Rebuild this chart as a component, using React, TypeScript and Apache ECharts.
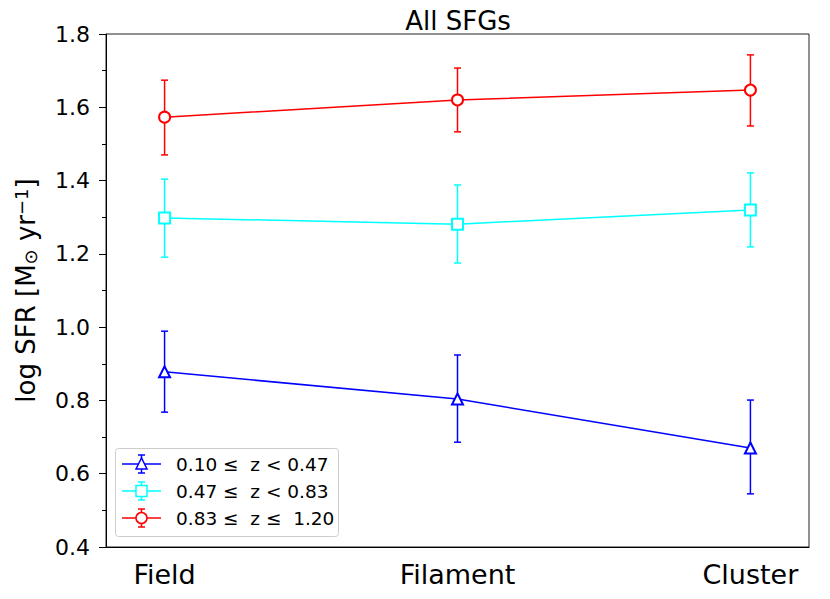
import React, { useEffect, useRef } from "react";
import * as echarts from "echarts";

const categories = ["Field", "Filament", "Cluster"];
const xPositions = [0, 1, 2];
const seriesNames = ["0.10 ≤  z < 0.47", "0.47 ≤  z < 0.83", "0.83 ≤  z ≤  1.20"];
const colors = ["#0000ff", "#00ffff", "#ff0000"];
const symbols = ["emptyTriangle", "emptyRect", "emptyCircle"];
const lowZMean = [0.878, 0.804, 0.67];
const lowZLow = [0.768, 0.686, 0.545];
const lowZHigh = [0.989, 0.924, 0.801];
const midZMean = [1.298, 1.281, 1.32];
const midZLow = [1.191, 1.175, 1.219];
const midZHigh = [1.404, 1.388, 1.421];
const highZMean = [1.573, 1.62, 1.647];
const highZLow = [1.47, 1.533, 1.549];
const highZHigh = [1.674, 1.707, 1.743];
const yTicks = [0.4, 0.6, 0.8, 1.0, 1.2, 1.4, 1.6, 1.8];

const means = [lowZMean, midZMean, highZMean];
const lows = [lowZLow, midZLow, highZLow];
const highs = [lowZHigh, midZHigh, highZHigh];

const FONT = "DejaVu Sans";

export default function App() {
  const ref = useRef<HTMLDivElement>(null);
  useEffect(() => {
    document.body.style.margin = "0";
    const chart = echarts.init(ref.current!, undefined, { renderer: "svg" });
    const series: any[] = [];
    for (let i = 0; i < 3; i++) {
      series.push({
        type: "custom",
        name: seriesNames[i] + " err",
        z: 2,
        data: xPositions.map((x, j) => [x, lows[i][j], highs[i][j]]),
        renderItem: (params: any, api: any) => {
          const x = api.value(0);
          const lo = api.coord([x, api.value(1)]);
          const hi = api.coord([x, api.value(2)]);
          const cap = 3.5;
          const style = { stroke: colors[i], lineWidth: 1.5 };
          return {
            type: "group",
            children: [
              { type: "line", shape: { x1: lo[0], y1: lo[1], x2: hi[0], y2: hi[1] }, style },
              { type: "line", shape: { x1: lo[0] - cap, y1: lo[1], x2: lo[0] + cap, y2: lo[1] }, style },
              { type: "line", shape: { x1: hi[0] - cap, y1: hi[1], x2: hi[0] + cap, y2: hi[1] }, style },
            ],
          };
        },
      });
      series.push({
        type: "line",
        name: seriesNames[i],
        z: 3,
        data: xPositions.map((x, j) => [x, means[i][j]]),
        symbol: symbols[i],
        symbolSize: 11,
        showAllSymbol: true,
        lineStyle: { color: colors[i], width: 1.5 },
        itemStyle: { color: colors[i], borderColor: colors[i], borderWidth: 1.5 },
      });
    }

    // legend drawn as graphic
    const lg: any[] = [
      {
        type: "rect",
        shape: { x: 115.5, y: 448.5, width: 223, height: 88, r: 3 },
        style: { fill: "rgba(255,255,255,0.8)", stroke: "#cccccc", lineWidth: 1 },
        z: 10,
      },
    ];
    const rowY = [464, 491, 518];
    for (let i = 0; i < 3; i++) {
      const y = rowY[i];
      const st = { stroke: colors[i], lineWidth: 1.5 };
      lg.push({ type: "line", shape: { x1: 122, y1: y, x2: 161, y2: y }, style: st, z: 11 });
      lg.push({ type: "line", shape: { x1: 141.5, y1: y - 9, x2: 141.5, y2: y + 9 }, style: st, z: 11 });
      lg.push({ type: "line", shape: { x1: 138, y1: y - 9, x2: 145, y2: y - 9 }, style: st, z: 11 });
      lg.push({ type: "line", shape: { x1: 138, y1: y + 9, x2: 145, y2: y + 9 }, style: st, z: 11 });
      const ms = { fill: "#ffffff", stroke: colors[i], lineWidth: 1.5 };
      if (i === 0) {
        lg.push({ type: "polygon", shape: { points: [[141.5, y - 6], [136, y + 5], [147, y + 5]] }, style: ms, z: 12 });
      } else if (i === 1) {
        lg.push({ type: "rect", shape: { x: 136, y: y - 5.5, width: 11, height: 11 }, style: ms, z: 12 });
      } else {
        lg.push({ type: "circle", shape: { cx: 141.5, cy: y, r: 5.5 }, style: ms, z: 12 });
      }
      lg.push({
        type: "text",
        x: 176,
        y: y,
        style: { text: seriesNames[i], font: `18.5px '${FONT}'`, fill: "#000", verticalAlign: "middle", textAlign: "left" },
        z: 12,
      });
    }

    chart.setOption({
      animation: false,
      backgroundColor: "#ffffff",
      title: {
        text: "All SFGs",
        left: 453,
        textAlign: "center",
        top: 3,
        textStyle: { fontFamily: FONT, fontSize: 26, fontWeight: "normal", color: "#000" },
      },
      grid: {
        left: 106,
        top: 34,
        right: 21,
        bottom: 52,
        containLabel: false,
        outerBoundsMode: "none",
        show: true,
        borderColor: "#222",
        borderWidth: 1,
        backgroundColor: "transparent",
      },
      xAxis: {
        type: "value",
        min: -0.2,
        max: 2.2,
        splitLine: { show: false },
        axisLine: { show: true, onZero: false, lineStyle: { color: "#000", width: 1 } },
        axisTick: { show: false },
        axisLabel: {
          customValues: xPositions,
          formatter: (v: number) => categories[Math.round(v)] ?? "",
          fontFamily: FONT,
          fontSize: 27,
          color: "#000",
          margin: 14,
        },
      },
      yAxis: {
        type: "value",
        min: 0.4,
        max: 1.8,
        interval: 0.2,
        splitLine: { show: false },
        axisLine: { show: true, onZero: false, lineStyle: { color: "#000", width: 1 } },
        axisTick: { show: true, inside: false, length: 7, lineStyle: { color: "#000", width: 1 } },
        minorTick: { show: true, splitNumber: 2, length: 4, lineStyle: { color: "#000", width: 1 } },
        axisLabel: {
          fontFamily: FONT,
          fontSize: 22,
          color: "#000",
          margin: 16,
          formatter: (v: number) => {
            const t = yTicks.find((k) => Math.abs(k - v) < 1e-6);
            return t !== undefined ? t.toFixed(1) : "";
          },
        },
        name: "log SFR [M{sub|⊙} yr{sup|−1}]",
        nameLocation: "middle",
        nameGap: 67,
        nameRotate: 90,
        nameTextStyle: {
          fontFamily: FONT,
          fontSize: 26,
          color: "#000",
          rich: {
            sub: { fontFamily: FONT, fontSize: 18, color: "#000", verticalAlign: "bottom", padding: [8, 0, 0, 0] },
            sup: { fontFamily: FONT, fontSize: 18, color: "#000", verticalAlign: "top", padding: [0, 0, 9, 0] },
          },
        },
      },
      graphic: lg,
      series,
    });
    return () => chart.dispose();
  }, []);
  return <div ref={ref} style={{ width: 830, height: 599, position: "absolute", left: 0, top: 0 }} />;
}
